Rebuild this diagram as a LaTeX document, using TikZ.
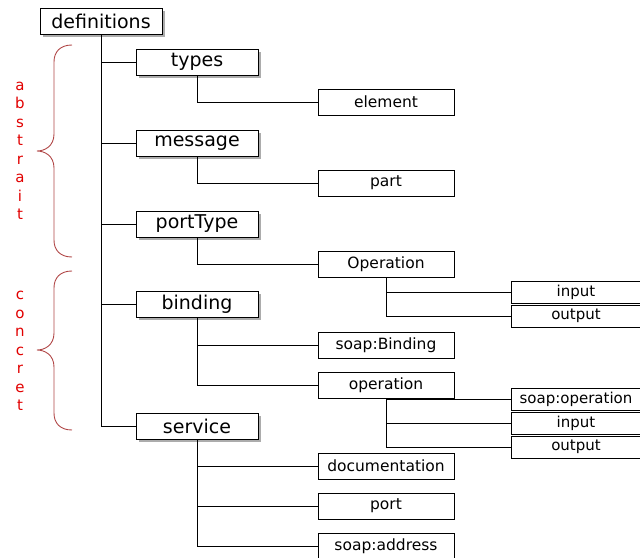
\documentclass[tikz,border=0pt]{standalone}
\usepackage{fontspec}
\setmainfont{DejaVu Sans}
\usetikzlibrary{shadows}
\definecolor{bracered}{RGB}{176,70,70}
\definecolor{lblred}{RGB}{225,0,0}

\begin{document}
\begin{tikzpicture}[
    x=1pt, y=-1pt,
    line width=0.8pt,
    boxshadow/.style={drop shadow={shadow xshift=3pt, shadow yshift=-3pt, fill=gray!65, opacity=1}},
    toplevel/.style={rectangle, draw, fill=white, minimum width=122pt, minimum height=26pt, inner sep=0pt, font=\fontsize{19}{21}\selectfont, boxshadow},
    child/.style={rectangle, draw, fill=white, minimum width=136pt, minimum height=26pt, inner sep=0pt, font=\fontsize{15.5}{17}\selectfont},
    leaf/.style={rectangle, draw, fill=white, minimum width=130pt, minimum height=22pt, inner sep=0pt, font=\fontsize{15}{17}\selectfont},
    brace/.style={draw=bracered, line width=0.9pt},
    vlabel/.style={text=lblred, align=center, font=\fontsize{15}{18.5}\selectfont}
]
\useasboundingbox (0,0) rectangle (640,557);

% Root
\node[toplevel] (def) at (101,21) {definitions};

% Top level elements
\node[toplevel] (types) at (197,62) {types};
\node[toplevel] (message) at (197,143) {message};
\node[toplevel] (portType) at (197,224) {portType};
\node[toplevel] (binding) at (197,304) {binding};
\node[toplevel] (service) at (197,426) {service};

% Children
\node[child] (element) at (386,102) {element};
\node[child] (part) at (386,183) {part};
\node[child] (opA) at (386,264) {Operation};
\node[child] (soapBinding) at (386,345) {soap:Binding};
\node[child] (opB) at (386,385) {operation};
\node[child] (doc) at (386,466) {documentation};
\node[child] (port) at (386,506) {port};
\node[child] (soapAddr) at (386,546) {soap:address};

% Leaves
\node[leaf] (inputA) at (576,292) {input};
\node[leaf] (outputA) at (576,316) {output};
\node[leaf] (soapOp) at (576,399) {soap:operation};
\node[leaf] (inputB) at (576,423) {input};
\node[leaf] (outputB) at (576,447) {output};

% Connectors
\foreach \n in {types, message, portType, binding, service}
    \draw (def) |- (\n);
\draw (types) |- (element);
\draw (message) |- (part);
\draw (portType) |- (opA);
\draw (binding) |- (soapBinding);
\draw (binding) |- (opB);
\draw (service) |- (doc);
\draw (service) |- (port);
\draw (service) |- (soapAddr);
\draw (opA) |- (inputA);
\draw (opA) |- (outputA);
\draw (opB) |- (soapOp);
\draw (opB) |- (inputB);
\draw (opB) |- (outputB);

% Braces
\draw[brace] (72,45) .. controls (60,45) and (54,52) .. (54,62) -- (54,134)
    .. controls (54,146) and (45,151) .. (37,151)
    .. controls (45,151) and (54,156) .. (54,168) -- (54,240)
    .. controls (54,250) and (60,257) .. (72,257);
\draw[brace] (72,271) .. controls (60,271) and (54,278) .. (54,288) -- (54,333)
    .. controls (54,345) and (45,350) .. (37,350)
    .. controls (45,350) and (54,355) .. (54,367) -- (54,413)
    .. controls (54,423) and (60,430) .. (72,430);

% Labels
\node[vlabel] (abstractLbl) at (20,151) {a\\b\\s\\t\\r\\a\\i\\t};
\node[vlabel] (concretLbl) at (20,351) {c\\o\\n\\c\\r\\e\\t};

\end{tikzpicture}
\end{document}
